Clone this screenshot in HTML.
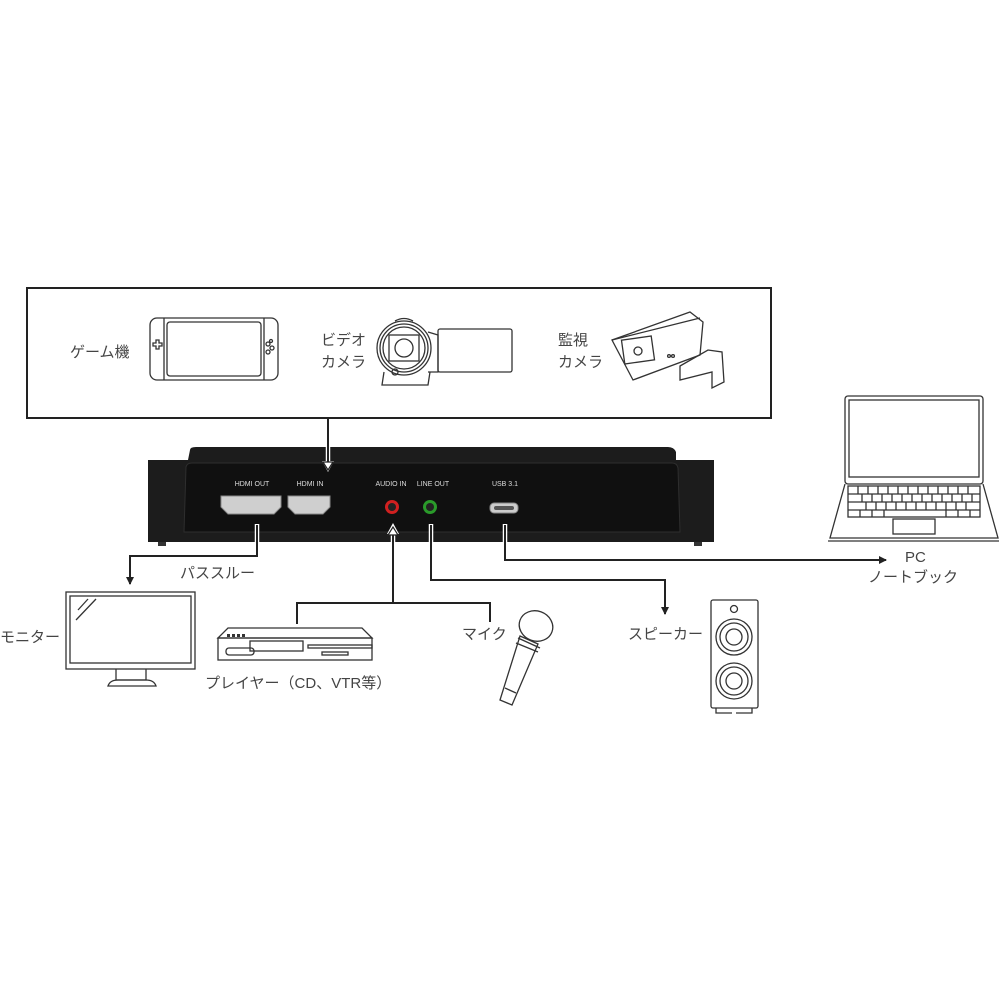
<!DOCTYPE html>
<html><head><meta charset="utf-8"><style>
html,body{margin:0;padding:0;background:#fff;width:1000px;height:1000px;overflow:hidden}
svg text{font-family:"Liberation Sans","Noto Sans CJK JP",sans-serif}
</style></head><body>
<svg width="1000" height="1000" viewBox="0 0 1000 1000" xmlns="http://www.w3.org/2000/svg">
<defs>
<marker id="ah" markerWidth="8" markerHeight="8" refX="7" refY="4" orient="auto" markerUnits="userSpaceOnUse"><path d="M0,0 L8,4 L0,8 Z" fill="#222"/></marker>
</defs>

<!-- top box -->
<rect x="27" y="288" width="744" height="130" fill="#fff" stroke="#222" stroke-width="2"/>
<g font-size="15" fill="#444">
<text x="70" y="357">ゲーム機</text>
<text x="321" y="345">ビデオ</text>
<text x="321" y="367">カメラ</text>
<text x="558" y="345">監視</text>
<text x="558" y="367">カメラ</text>
</g>
<!-- switch -->
<g fill="none" stroke="#333" stroke-width="1.3">
<rect x="150" y="318" width="128" height="62" rx="7"/>
<line x1="164" y1="318" x2="164" y2="380"/><line x1="264" y1="318" x2="264" y2="380"/>
<rect x="167" y="322" width="94" height="54" rx="3"/>
<path d="M153,343h3v-3h3v3h3v3h-3v3h-3v-3h-3z"/>
<circle cx="268" cy="344" r="2"/><circle cx="272" cy="348" r="2"/><circle cx="268" cy="352" r="2"/>
<circle cx="271" cy="341" r="1.5"/>
</g>
<!-- camcorder -->
<g fill="none" stroke="#333" stroke-width="1.3">
<rect x="438" y="329" width="74" height="43" rx="2"/>
<path d="M384,372 L382,385 L428,385 L430,372"/>
<circle cx="404" cy="348" r="27"/><circle cx="404" cy="348" r="24"/><circle cx="404" cy="348" r="21"/>
<rect x="389" y="335" width="30" height="26"/>
<circle cx="404" cy="348" r="9"/>
<path d="M395,321 Q404,316 413,321"/>
<path d="M428,332 L438,335 L438,372 L428,372"/>
<circle cx="395" cy="372" r="3"/>
</g>
<!-- security cam -->
<g fill="none" stroke="#333" stroke-width="1.3">
<path d="M612,340 L690,312 L703,322 L700,355 L633,380 Z"/>
<path d="M612,340 L620,338 L700,318"/>
<rect x="623" y="338" width="30" height="24" transform="rotate(-8 638 350)"/>
<circle cx="638" cy="351" r="4"/>
<path d="M680,366 L708,350 L722,352 L724,382 L712,388 L712,372 L680,380 Z"/>
<circle cx="669" cy="356" r="1.4"/><circle cx="673" cy="356" r="1.4"/>
</g>

<!-- device -->
<path d="M190,450 Q190,447 196,447 L668,447 Q674,447 676,452 L676,460 L714,460 L714,542 L148,542 L148,460 L188,460 Z" fill="#1c1c1c"/>
<path d="M186,467 Q187,463 192,463 L672,463 Q677,463 678,468 L680,532 L184,532 Z" fill="#101010" stroke="#2e2e2e" stroke-width="1"/>
<rect x="158" y="542" width="8" height="4" fill="#333"/><rect x="694" y="542" width="8" height="4" fill="#333"/>
<g font-size="7" fill="#ddd" text-anchor="middle">
<text x="252" y="486">HDMI OUT</text>
<text x="310" y="486">HDMI IN</text>
<text x="391" y="486">AUDIO IN</text>
<text x="433" y="486">LINE OUT</text>
<text x="505" y="486">USB 3.1</text>
</g>
<path d="M221,496 L281,496 L281,507 L274,514 L228,514 L221,507 Z" fill="#cfcfcf" stroke="#888"/>
<path d="M288,496 L330,496 L330,507 L323,514 L295,514 L288,507 Z" fill="#cfcfcf" stroke="#888"/>
<circle cx="392" cy="507" r="7" fill="#d02020"/><circle cx="392" cy="507" r="4" fill="#222"/>
<circle cx="430" cy="507" r="7" fill="#2a9a2a"/><circle cx="430" cy="507" r="4" fill="#222"/>
<rect x="490" y="503" width="28" height="10" rx="4" fill="#ccc" stroke="#888"/>
<rect x="494" y="506" width="20" height="4" rx="2" fill="#555"/>

<!-- halos inside device -->
<g fill="none" stroke="#fff" stroke-width="4.5">
<line x1="328" y1="445" x2="328" y2="462"/>
<line x1="257" y1="524" x2="257" y2="545"/>
<line x1="393" y1="535" x2="393" y2="545"/>
<line x1="431" y1="524" x2="431" y2="545"/>
<line x1="505" y1="524" x2="505" y2="545"/>
</g>
<path d="M322,461 L334,461 L328,472 Z" fill="#fff"/>
<path d="M387,534 L399,534 L393,523 Z" fill="#fff"/>
<!-- connectors -->
<g fill="none" stroke="#222" stroke-width="2">
<line x1="328" y1="418" x2="328" y2="462"/>
<polyline points="257,525 257,556 130,556 130,584" marker-end="url(#ah)"/>
<line x1="393" y1="603" x2="393" y2="534"/>
<polyline points="297,624 297,603 490,603 490,622"/>
<polyline points="431,525 431,580 665,580 665,614" marker-end="url(#ah)"/>
<polyline points="505,525 505,560 886,560" marker-end="url(#ah)"/>
</g>
<path d="M323,462 L333,462 L328,470 Z" fill="#fff" stroke="#222" stroke-width="1.2"/>
<path d="M388,535 L398,535 L393,527 Z" fill="#fff" stroke="#222" stroke-width="1.2"/>
<g font-size="15" fill="#444">
<text x="180" y="578">パススルー</text>
<text x="0" y="642">モニター</text>
<text x="205" y="688">プレイヤー（CD、VTR等）</text>
<text x="462" y="639">マイク</text>
<text x="628" y="639">スピーカー</text>
<text x="905" y="562">PC</text>
<text x="868" y="582">ノートブック</text>
</g>

<!-- monitor -->
<g fill="none" stroke="#333" stroke-width="1.3">
<rect x="66" y="592" width="129" height="77"/>
<rect x="70" y="596" width="121" height="67"/>
<line x1="78" y1="610" x2="88" y2="599"/><line x1="76" y1="620" x2="96" y2="599"/>
<path d="M116,669 L116,680 L146,680 L146,669"/>
<path d="M108,686 Q110,680 118,680 L146,680 Q154,680 156,686 Z"/>
</g>
<!-- player -->
<g fill="none" stroke="#333" stroke-width="1.3">
<path d="M218,638 L228,628 L362,628 L372,638 Z"/>
<rect x="218" y="638" width="154" height="22"/>
<rect x="250" y="641" width="53" height="10"/>
<rect x="226" y="648" width="28" height="7" rx="3"/>
<rect x="308" y="645" width="64" height="3"/><rect x="322" y="652" width="26" height="3"/>
</g>
<g fill="#333"><rect x="227" y="634" width="3" height="3"/><rect x="232" y="634" width="3" height="3"/><rect x="237" y="634" width="3" height="3"/><rect x="242" y="634" width="3" height="3"/></g>
<!-- mic -->
<g fill="none" stroke="#333" stroke-width="1.3">
<path d="M520,636 L538,644 L512,705 L500,700 Z"/>
<ellipse cx="536" cy="626" rx="17" ry="15" transform="rotate(20 536 626)"/>
<path d="M518,638 L540,648 M516,643 L538,652"/>
<path d="M505,688 L516,693"/>
</g>
<!-- speaker -->
<g fill="none" stroke="#333" stroke-width="1.3">
<rect x="711" y="600" width="47" height="108" rx="2"/>
<circle cx="734" cy="609" r="3.5"/>
<circle cx="734" cy="637" r="18"/><circle cx="734" cy="637" r="14"/><circle cx="734" cy="637" r="8"/>
<circle cx="734" cy="681" r="18"/><circle cx="734" cy="681" r="14"/><circle cx="734" cy="681" r="8"/>
<path d="M716,708 L716,713 L732,713 M736,713 L752,713 L752,708"/>
</g>
<!-- laptop -->
<g fill="none" stroke="#333" stroke-width="1.3">
<rect x="845" y="396" width="138" height="88" rx="3"/>
<rect x="849" y="400" width="130" height="77"/>
<path d="M845,484 L830,538 L998,538 L983,484"/>
<line x1="828" y1="541" x2="999" y2="541"/>
<rect x="893" y="519" width="42" height="15"/>
<rect x="848" y="486" width="132" height="31"/>
<path d="M848,494 H980 M848,502 H980 M848,510 H980"/>
<path d="M858,486V494 M868,486V494 M878,486V494 M888,486V494 M898,486V494 M908,486V494 M918,486V494 M928,486V494 M938,486V494 M948,486V494 M958,486V494 M968,486V494"/>
<path d="M862,494V502 M872,494V502 M882,494V502 M892,494V502 M902,494V502 M912,494V502 M922,494V502 M932,494V502 M942,494V502 M952,494V502 M962,494V502 M972,494V502"/>
<path d="M866,502V510 M876,502V510 M886,502V510 M896,502V510 M906,502V510 M916,502V510 M926,502V510 M936,502V510 M946,502V510 M956,502V510 M966,502V510"/>
<path d="M860,510V517 M872,510V517 M884,510V517 M946,510V517 M958,510V517 M970,510V517"/>
</g>
</svg>
</body></html>
